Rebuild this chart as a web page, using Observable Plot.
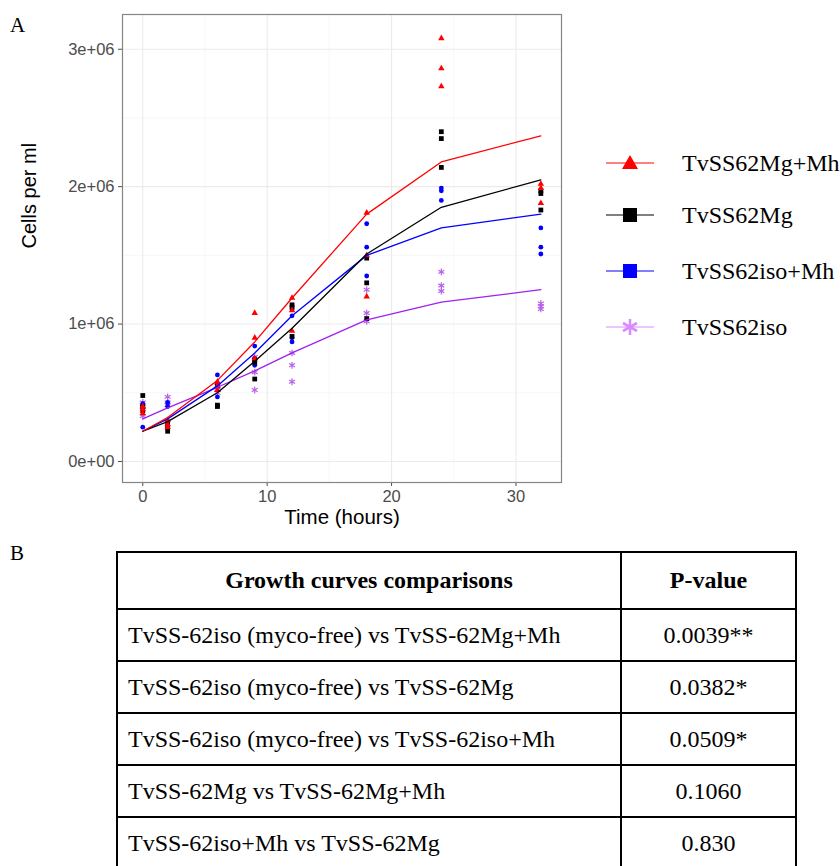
<!DOCTYPE html>
<html><head><meta charset="utf-8">
<script src="https://cdn.jsdelivr.net/npm/d3@7"></script>
<script src="https://cdn.jsdelivr.net/npm/@observablehq/plot@0.6"></script>
<style>
body{margin:0;background:#fff;}
#fig{position:relative;width:840px;height:866px;overflow:hidden;background:#fff;font-family:"Liberation Serif","Times New Roman",serif;color:#000;}
#chart{position:absolute;left:0;top:0;}
.plabel{position:absolute;font-size:21px;line-height:1;}
.item{position:absolute;left:603px;height:30px;display:flex;align-items:center;font-size:24px;white-space:nowrap;}
.item svg{width:54px;height:30px;margin-right:25px;}
table{position:absolute;left:116px;top:551px;border-collapse:collapse;width:681px;font-size:24px;}
th,td{border:2px solid #000;padding:0 0 0 10px;text-align:left;height:50px;font-weight:normal;}
th{font-weight:bold;text-align:center;height:55px;padding:0;}
td.pv{text-align:center;padding:0;width:173px;}
</style></head>
<body><div id="fig">
<div class="plabel" style="left:10px;top:15px;">A</div>
<div id="chart"></div>
<div id="legend"></div>
<div class="plabel" style="left:10px;top:543px;">B</div>
<div id="tbl"></div>
</div>
<script>
// ---------- data ----------
const times = [0, 2, 6, 9, 12, 18, 24, 32];
const groups = ["TvSS62Mg+Mh", "TvSS62Mg", "TvSS62iso+Mh", "TvSS62iso"];
// fitted growth curves (millions of cells per ml)
const fitMgMh  = [0.22, 0.32, 0.59, 0.87, 1.19, 1.80, 2.18, 2.37];
const fitMg    = [0.22, 0.29, 0.50, 0.73, 0.97, 1.51, 1.85, 2.05];
const fitIsoMh = [0.22, 0.31, 0.55, 0.79, 1.06, 1.50, 1.70, 1.80];
const fitIso   = [0.31, 0.39, 0.54, 0.66, 0.79, 1.03, 1.16, 1.25];
// replicate counts (millions of cells per ml), three per time point
const repMgMh  = [[0.38,0.35,0.40],[0.27,0.25,0.30],[0.58,0.52,0.55],[1.08,0.90,0.75],[1.19,1.10,0.95],[1.81,1.50,1.20],[3.08,2.86,2.73],[2.02,1.99,1.88]];
const repMg    = [[0.48,0.37,0.40],[0.22,0.25,0.27],[0.40,0.41,0.55],[0.72,0.60,0.74],[1.14,1.12,0.91],[1.30,1.04,1.48],[2.40,2.35,2.14],[1.95,1.83,1.97]];
const repIsoMh = [[0.25,0.40,0.42],[0.26,0.40,0.43],[0.63,0.57,0.47],[0.84,0.70,0.75],[1.06,0.90,0.87],[1.73,1.56,1.35],[1.99,1.97,1.90],[1.70,1.56,1.51]];
const repIso   = [[0.43,0.33,0.40],[0.47,0.43,0.41],[0.55,0.52,0.50],[0.76,0.65,0.52],[0.79,0.70,0.58],[1.25,1.08,1.02],[1.38,1.28,1.24],[1.15,1.11,1.13]];
const yTicks = [0, 1e6, 2e6, 3e6];
const yTickLabels = ["0e+00", "1e+06", "2e+06", "3e+06"];
const xTicks = [0, 10, 20, 30];
const xTickLabels = ["0", "10", "20", "30"];
const yMinor = [0.5e6, 1.5e6, 2.5e6];
const xMinor = [5, 15, 25];
const comparisons = [
  "TvSS-62iso (myco-free) vs TvSS-62Mg+Mh",
  "TvSS-62iso (myco-free) vs TvSS-62Mg",
  "TvSS-62iso (myco-free) vs TvSS-62iso+Mh",
  "TvSS-62Mg vs TvSS-62Mg+Mh",
  "TvSS-62iso+Mh vs TvSS-62Mg"
];
const pValues = ["0.0039**", "0.0382*", "0.0509*", "0.1060", "0.830"];

// ---------- styling ----------
const lineColors  = ["#FF0000", "#000000", "#0000FF", "#A020F0"];
const pointColors = ["#FF0000", "#000000", "#0000FF", "#B860E8"];
const legendColors = ["#FF0000", "#000000", "#0000FF", "#D98CFF"];
const symbols = ["triangle", "square", "circle", "asterisk"];
const radii = [2.4, 2.7, 2.4, 3.2];

const fits = [fitMgMh, fitMg, fitIsoMh, fitIso];
const reps = [repMgMh, repMg, repIsoMh, repIso];

const fitRows = [], pointRows = [];
groups.forEach((g, gi) => {
  times.forEach((t, ti) => {
    fitRows.push({group: g, gi, time: t, cells: fits[gi][ti] * 1e6});
    reps[gi][ti].forEach(v => pointRows.push({group: g, gi, time: t, cells: v * 1e6}));
  });
});

const marks = [
  Plot.ruleY(yMinor, {stroke: "#F3F3F3", strokeWidth: 0.7}),
  Plot.ruleX(xMinor, {stroke: "#F3F3F3", strokeWidth: 0.7}),
  Plot.ruleY(yTicks, {stroke: "#EBEBEB", strokeWidth: 1.1}),
  Plot.ruleX(xTicks, {stroke: "#EBEBEB", strokeWidth: 1.1}),
];
[3, 2, 1, 0].forEach(gi => {
  const d = pointRows.filter(r => r.gi === gi);
  if (symbols[gi] === "asterisk") {
    marks.push(Plot.dot(d, {x: "time", y: "cells", symbol: "asterisk", r: radii[gi], stroke: pointColors[gi], strokeWidth: 1.2}));
  } else {
    marks.push(Plot.dot(d, {x: "time", y: "cells", symbol: symbols[gi], r: radii[gi], fill: pointColors[gi], stroke: "none"}));
  }
});
[3, 2, 1, 0].forEach(gi => {
  marks.push(Plot.line(fitRows.filter(r => r.gi === gi), {x: "time", y: "cells", stroke: lineColors[gi], strokeWidth: 1.3}));
});
marks.push(
  Plot.axisY({ticks: yTicks, tickSize: 4, tickFormat: () => "", color: "#4D4D4D", label: null}),
  Plot.axisX({ticks: xTicks, tickSize: 4, tickFormat: () => "", color: "#4D4D4D", label: null}),
  Plot.text(yTicks, {y: d => d, text: (d, i) => yTickLabels[i], frameAnchor: "left", dx: -8, textAnchor: "end", lineAnchor: "middle", fontSize: 16.5, fill: "#4D4D4D"}),
  Plot.text(xTicks, {x: d => d, text: (d, i) => xTickLabels[i], frameAnchor: "bottom", dy: 14, lineAnchor: "middle", fontSize: 16.5, fill: "#4D4D4D"}),
  Plot.text(["Cells per ml"], {frameAnchor: "left", dx: -93, rotate: -90, fontSize: 20, fill: "#000", lineAnchor: "middle"}),
  Plot.text(["Time (hours)"], {frameAnchor: "bottom", dy: 35, fontSize: 20.5, fill: "#000", lineAnchor: "middle"}),
  Plot.frame({stroke: "#858585", strokeWidth: 1.2})
);

const chart = Plot.plot({
  width: 580, height: 540,
  marginLeft: 122, marginRight: 19, marginTop: 14, marginBottom: 58,
  style: {fontFamily: "'Liberation Sans', Arial, sans-serif", fontSize: "15px", background: "transparent", overflow: "visible"},
  x: {domain: [-1.63, 33.66]},
  y: {domain: [-0.153e6, 3.253e6]},
  marks
});
document.getElementById("chart").appendChild(chart);

// ---------- legend ----------
const legendY = [163, 215, 271, 327];
const legend = document.getElementById("legend");
groups.forEach((g, gi) => {
  const item = document.createElement("div");
  item.className = "item";
  item.style.top = (legendY[gi] - 15) + "px";
  const c = legendColors[gi];
  let sym;
  if (gi === 0) sym = `<polygon points="27,7 35,21 19,21" fill="${c}"/>`;
  else if (gi === 3) sym = `<g stroke="${c}" stroke-width="2.6"><line x1="27" y1="7" x2="27" y2="23"/><line x1="20" y1="11" x2="34" y2="19"/><line x1="20" y1="19" x2="34" y2="11"/></g>`;
  else sym = `<rect x="20" y="8" width="14" height="14" fill="${c}"/>`;
  item.innerHTML = `<svg viewBox="0 0 54 30"><line x1="3" y1="15" x2="51" y2="15" stroke="${c}" stroke-width="1"/>${sym}</svg><span>${g}</span>`;
  legend.appendChild(item);
});

// ---------- table ----------
let html = `<table><tr><th>Growth curves comparisons</th><th>P-value</th></tr>`;
comparisons.forEach((c, i) => { html += `<tr><td>${c}</td><td class="pv">${pValues[i]}</td></tr>`; });
html += `</table>`;
document.getElementById("tbl").innerHTML = html;
</script>
</body></html>
